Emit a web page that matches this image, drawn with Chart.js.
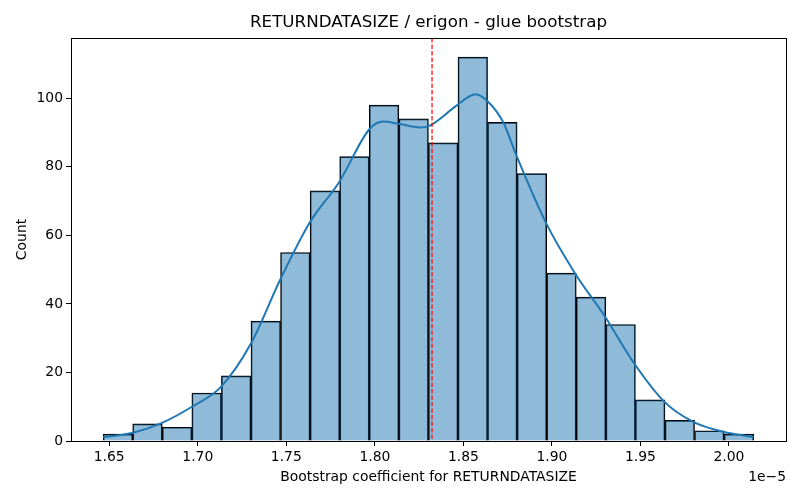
<!DOCTYPE html>
<html lang="en">
  <head>
    <meta charset="UTF-8" />
    <title>RETURNDATASIZE bootstrap</title>
    <script src="https://cdn.jsdelivr.net/npm/chart.js@4.4.0/dist/chart.umd.min.js"></script>
    <style>
      html, body { margin: 0; padding: 0; background: #fff; }
      #wrap { width: 800px; height: 500px; }
    </style>
  </head>
  <body>
    <div id="wrap"><canvas id="chart" width="800" height="500"></canvas></div>
    <script>
      // values in units of 1e-5
      const binCenters = [1.6549, 1.6716, 1.6883, 1.7050, 1.7217, 1.7384, 1.7551, 1.7718, 1.7885, 1.8052, 1.8219,
                          1.8386, 1.8553, 1.8720, 1.8887, 1.9054, 1.9221, 1.9388, 1.9555, 1.9722, 1.9889, 2.0056]
      const counts = [2, 5, 4, 14, 19, 35, 55, 73, 83, 98, 94, 87, 112, 93, 78, 49, 42, 34, 12, 6, 3, 2]

      // kde curve
      const kdeX = [1.6466, 1.6634, 1.6798, 1.6967, 1.7131, 1.7301, 1.7464, 1.7634, 1.7798, 1.7968, 1.8047, 1.8131,
                    1.8256, 1.8301, 1.8465, 1.8567, 1.8634, 1.8725, 1.8798, 1.8968, 1.9131, 1.9301, 1.9465, 1.9634,
                    1.9798, 1.9968, 2.0139]
      const kdeY = [1.1, 2.4, 5.3, 10.0, 15.8, 28.5, 46.9, 63.9, 75.5, 90.9, 93.2, 92.6,
                    91.5, 91.8, 98.0, 101.2, 99.3, 93.0, 83.5, 63.5, 48.9, 36.2, 22.6, 11.5,
                    5.6, 2.7, 1.1]

      const meanLine = [1.8323]
      const xTicks = [1.65, 1.70, 1.75, 1.80, 1.85, 1.90, 1.95, 2.00]
      const yTicks = [0, 20, 40, 60, 80, 100]

      Chart.defaults.font.family = 'DejaVu Sans'
      Chart.defaults.font.size = 13.9
      Chart.defaults.color = '#000'

      const extras = {
        id: 'extras',
        afterDatasetsDraw(chart) {
          const ctx = chart.ctx
          const a = chart.chartArea
          const xs = chart.scales.x
          // mean line
          ctx.save()
          ctx.strokeStyle = '#ff0000'
          ctx.lineWidth = 1.2
          ctx.setLineDash([4.5, 2])
          const px = xs.getPixelForValue(meanLine[0])
          ctx.beginPath()
          ctx.moveTo(px, a.top)
          ctx.lineTo(px, a.bottom)
          ctx.stroke()
          ctx.restore()
        },
        afterDraw(chart) {
          const ctx = chart.ctx
          const a = chart.chartArea
          ctx.save()
          ctx.strokeStyle = '#000'
          ctx.lineWidth = 1
          ctx.strokeRect(Math.round(a.left) + 0.5, Math.round(a.top) + 0.5,
                         Math.round(a.right - a.left), Math.round(a.bottom - a.top))
          ctx.fillStyle = '#000'
          ctx.font = '16.7px "DejaVu Sans"'
          ctx.textAlign = 'center'
          ctx.textBaseline = 'middle'
          ctx.fillText('RETURNDATASIZE / erigon - glue bootstrap', (a.left + a.right) / 2, 23)
          ctx.font = '13.9px "DejaVu Sans"'
          ctx.textAlign = 'right'
          ctx.fillText('1e\u22125', a.right, 477)
          ctx.restore()
        }
      }

      new Chart(document.getElementById('chart'), {
        type: 'bar',
        data: {
          datasets: [
            {
              type: 'line',
              data: kdeX.map((x, i) => ({ x: x, y: kdeY[i] })),
              borderColor: '#1f77b4',
              borderWidth: 2,
              pointRadius: 0,
              tension: 0.4,
              cubicInterpolationMode: 'monotone',
              order: 1,
            },
            {
              type: 'bar',
              data: binCenters.map((x, i) => ({ x: x, y: counts[i] })),
              backgroundColor: 'rgba(31, 119, 180, 0.5)',
              borderColor: '#000',
              borderWidth: 1,
              barPercentage: 1,
              categoryPercentage: 1,
              order: 2,
            },
          ],
        },
        options: {
          responsive: false,
          animation: false,
          devicePixelRatio: 1,
          layout: { padding: { top: 38, right: 14, left: 0, bottom: 0 } },
          plugins: { legend: { display: false }, tooltip: { enabled: false } },
          scales: {
            x: {
              type: 'linear',
              min: 1.6284,
              max: 2.0322,
              offset: false,
              grid: { drawOnChartArea: false, offset: false, tickLength: 5, color: '#000' },
              border: { display: true, color: '#000' },
              afterBuildTicks: (s) => { s.ticks = xTicks.map((v) => ({ value: v })) },
              afterFit: (s) => { s.height = 59 },
              ticks: { padding: 3, callback: (v) => v.toFixed(2), maxRotation: 0, autoSkip: false },
              title: { display: true, text: 'Bootstrap coefficient for RETURNDATASIZE', padding: { top: 2, bottom: 14 } },
            },
            y: {
              min: 0,
              max: 117.6,
              grid: { drawOnChartArea: false, offset: false, tickLength: 5, color: '#000' },
              border: { display: true, color: '#000' },
              afterBuildTicks: (s) => { s.ticks = yTicks.map((v) => ({ value: v })) },
              afterFit: (s) => { s.width = 71 },
              ticks: { padding: 3 },
              title: { display: true, text: 'Count', padding: { top: 14, bottom: 4 } },
            },
          },
        },
        plugins: [extras],
      })
    </script>
  </body>
</html>
